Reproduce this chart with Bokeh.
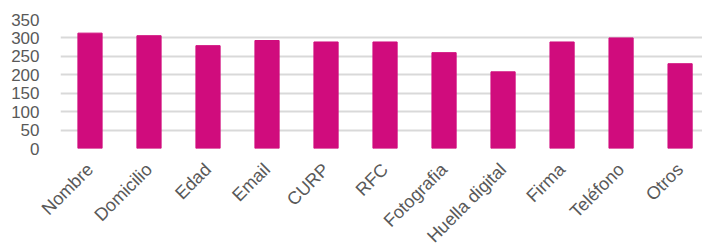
import math
from bokeh.plotting import figure
from bokeh.models import Range1d, FixedTicker, ColumnDataSource
from bokeh.embed import file_html
from bokeh.resources import INLINE

categories = ["Nombre", "Domicilio", "Edad", "Email", "CURP", "RFC",
              "Fotografia", "Huella digital", "Firma", "Teléfono", "Otros"]
values = [313, 306, 279, 293, 289, 289, 260, 208, 289, 300, 230]
y_ticks = [0, 50, 100, 150, 200, 250, 300, 350]

xs = list(range(len(categories)))
src = ColumnDataSource(dict(x=xs, top=values, name=categories))

p = figure(frame_width=642, frame_height=129, output_backend="svg", toolbar_location=None,
           x_range=Range1d(-0.5, 10.38), y_range=Range1d(0, 350),
           min_border_left=60, min_border_right=0, min_border_top=19, min_border_bottom=0)
p.vbar(x="x", top="top", width=0.41, source=src, color="#D00C7D")

p.outline_line_color = None
p.xgrid.visible = False
p.ygrid.grid_line_color = "#D9D9D9"
p.ygrid.grid_line_width = 2
p.yaxis.ticker = FixedTicker(ticks=y_ticks)
p.xaxis.ticker = FixedTicker(ticks=xs)
p.xaxis.major_label_overrides = {i: c for i, c in enumerate(categories)}
for ax in (p.xaxis[0], p.yaxis[0]):
    ax.axis_line_color = None
    ax.major_tick_line_color = None
    ax.minor_tick_line_color = None
    ax.major_label_text_font = "Liberation Sans"
    ax.major_label_text_font_size = "17px"
    ax.major_label_text_color = "#595959"
p.xaxis.major_label_text_font_size = "18px"
p.yaxis.major_label_standoff = 15
p.xaxis.major_label_orientation = math.pi / 4
p.xaxis.major_label_standoff = 12

open("out.html", "w").write(file_html(p, INLINE))
